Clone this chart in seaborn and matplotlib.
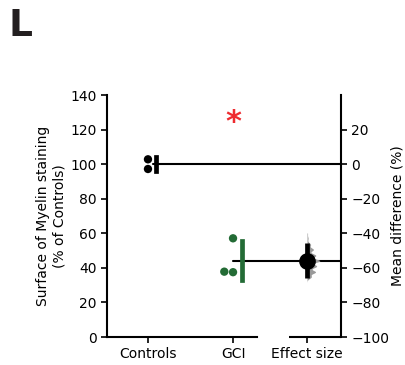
import numpy as np
import pandas as pd
import matplotlib
matplotlib.use("Agg")
import matplotlib.pyplot as plt
import seaborn as sns
from itertools import product

# Data
groups = ["Controls", "GCI"]
controls_vals = [102.8, 97.2]
gci_vals = [57.1, 37.8, 37.5]
effect_ci = [-66.0, -45.5]          # bootstrap CI of mean difference
effect_label = "Effect size"
sig_mark = "*"

group_colors = {"Controls": "#000000", "GCI": "#236b35"}
red = "#ee2a2f"

# long table for seaborn
df = pd.DataFrame({
    "Group": ["Controls"] * len(controls_vals) + ["GCI"] * len(gci_vals),
    "Value": controls_vals + gci_vals,
})

# every bootstrap resample (exhaustive, no random draws)
boot = []
for c in product(controls_vals, repeat=len(controls_vals)):
    for g in product(gci_vals, repeat=len(gci_vals)):
        boot.append(np.mean(g) - np.mean(c))
boot = np.array(boot)
mean_diff = np.mean(gci_vals) - np.mean(controls_vals)

# layout
effect_x = 1.87
bar_offset = 0.1
line_start = {"Controls": 0.06, "GCI": 0.0}
lw = 1.5

sns.set_style("ticks")
plt.rcParams["font.family"] = ["DejaVu Sans"]
plt.rcParams["text.color"] = "black"
plt.rcParams["axes.labelcolor"] = "black"
plt.rcParams["xtick.color"] = "black"
plt.rcParams["ytick.color"] = "black"

fig = plt.figure(figsize=(4.06, 3.65), dpi=100)
ax = fig.add_axes([0.2635, 0.0767, 0.5765, 0.663])

sns.swarmplot(data=df, x="Group", y="Value", hue="Group", palette=group_colors,
              size=6, legend=False, ax=ax, order=groups)

xmin, xmax = -0.482, 2.27
ax.set_xlim(xmin, xmax)
ax.set_ylim(0, 140)

# mean +/- SD bars and mean lines reaching the effect axis
for i, g in enumerate(groups):
    vals = np.array(df.loc[df["Group"] == g, "Value"])
    m, sd = vals.mean(), vals.std(ddof=1)
    ax.plot([i + bar_offset] * 2, [m - sd, m + sd], color=group_colors[g],
            lw=3.4, solid_capstyle="projecting", zorder=3)
    ax.plot([i + line_start[g], xmax], [m, m], color="black", lw=lw,
            clip_on=False, zorder=2)

ax.text(1, 124, sig_mark, color=red, fontsize=22, ha="center", va="center",
        fontweight="bold")

# right axis: mean difference
ax2 = ax.twinx()
ax2.set_ylim(-100, 40)
ax2.set_xlim(xmin, xmax)

# half violin of the bootstrap distribution
yy = np.linspace(boot.min() - 3, boot.max() + 0.3, 400)
bw = 1.0
dens = np.exp(-0.5 * ((yy[:, None] - boot[None, :]) / bw) ** 2).sum(axis=1)
dens = dens / dens.max() * 0.15
ax2.fill_betweenx(yy, effect_x, effect_x + dens, color="#9a9a9a", lw=0, zorder=2)
ax2.plot([effect_x] * 2, effect_ci, color="black", lw=3.4, solid_capstyle="butt", zorder=3)
ax2.plot([effect_x], [mean_diff], "o", color="black", ms=11, zorder=4)

ax2.set_yticks(np.arange(-100, 21, 20))
ax2.set_ylabel("Mean difference (%)", fontsize=10, labelpad=1)

ax.set_xticks([0, 1, effect_x])
ax.set_xticklabels(groups + [effect_label], fontsize=10)
ax.set_yticks(np.arange(0, 141, 20))
ax.set_xlabel("")
ax.set_ylabel("Surface of Myelin staining\n(% of Controls)", fontsize=10, labelpad=3)

for a in (ax, ax2):
    a.spines["top"].set_visible(False)
    a.tick_params(labelsize=10, width=1.2, length=4, color="black", labelcolor="black")
    for s in a.spines.values():
        s.set_linewidth(lw)
        s.set_color("black")

ax.spines["right"].set_visible(False)
ax2.spines["left"].set_visible(False)
ax2.spines["bottom"].set_visible(False)
ax.spines["bottom"].set_bounds(xmin, 1.28)
# second piece of the bottom axis under the effect size
ax.plot([1.66, xmax], [0, 0], color="black", lw=lw, clip_on=False,
        transform=ax.get_xaxis_transform(), solid_capstyle="butt")

fig.text(0.02, 0.901, "L", fontsize=27, fontweight="bold", color="#231f20", va="baseline")

fig.savefig("out.png", dpi=100)
